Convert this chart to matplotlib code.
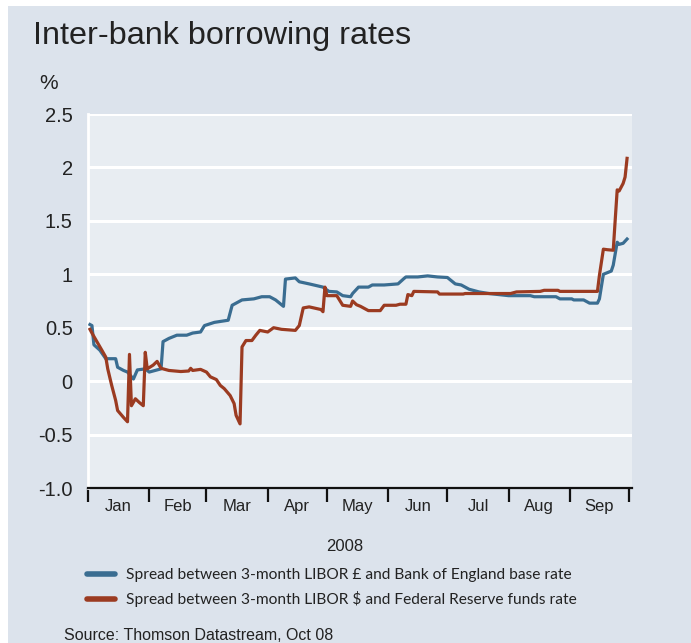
import matplotlib
matplotlib.use('Agg')
import matplotlib.pyplot as plt
from matplotlib.patches import Rectangle
import pandas as pd

# days since 1 Jan 2008 and spreads in percentage points
gbp_days = [1, 2, 3, 6, 9, 10, 14, 15, 18, 20, 23, 25, 29, 31, 34, 37, 38, 41, 45, 50,
            53, 57, 59, 64, 71, 73, 78, 84, 88, 92, 95, 99, 100, 105, 107, 112, 119, 122,
            126, 129, 133, 134, 137, 142, 144, 150, 157, 160, 161, 167, 172, 177, 182,
            186, 189, 193, 198, 203, 213, 224, 226, 237, 239, 245, 246, 251, 254, 258,
            259, 261, 265, 266, 268, 269, 271, 273]
gbp_spread = [0.53, 0.52, 0.34, 0.29, 0.21, 0.21, 0.21, 0.13, 0.10, 0.085, 0.02, 0.105,
              0.115, 0.085, 0.10, 0.115, 0.37, 0.40, 0.43, 0.43, 0.45, 0.46, 0.52, 0.55,
              0.57, 0.71, 0.76, 0.77, 0.79, 0.79, 0.76, 0.70, 0.955, 0.966, 0.93, 0.91,
              0.88, 0.84, 0.835, 0.80, 0.79, 0.82, 0.88, 0.88, 0.90, 0.90, 0.91, 0.96,
              0.975, 0.975, 0.985, 0.975, 0.97, 0.91, 0.90, 0.86, 0.835, 0.82, 0.80, 0.80,
              0.79, 0.79, 0.77, 0.77, 0.76, 0.76, 0.73, 0.73, 0.77, 1.0, 1.03, 1.085,
              1.30, 1.28, 1.29, 1.33]

usd_days = [1, 2, 7, 9, 10, 12, 14, 15, 18, 20, 21, 22, 24, 26, 28, 29, 30, 33, 35, 37,
            41, 47, 51, 52, 53, 57, 60, 62, 65, 67, 69, 72, 74, 75, 77, 78, 80, 83, 85,
            87, 91, 94, 98, 105, 107, 109, 112, 118, 119, 120, 121, 126, 129, 133, 134,
            136, 138, 142, 148, 150, 156, 158, 161, 162, 164, 165, 177, 178, 190, 191,
            214, 217, 229, 231, 238, 239, 258, 259, 261, 263, 266, 267, 268, 269, 271,
            272, 273]
usd_spread = [0.485, 0.45, 0.29, 0.225, 0.115, -0.04, -0.18, -0.275, -0.34, -0.38, 0.25,
              -0.23, -0.165, -0.20, -0.23, 0.27, 0.115, 0.15, 0.185, 0.12, 0.10, 0.09,
              0.095, 0.12, 0.10, 0.11, 0.085, 0.04, 0.015, -0.04, -0.07, -0.135, -0.21,
              -0.32, -0.40, 0.32, 0.38, 0.38, 0.43, 0.475, 0.46, 0.50, 0.485, 0.475, 0.52,
              0.685, 0.695, 0.67, 0.65, 0.88, 0.80, 0.80, 0.71, 0.70, 0.75, 0.715, 0.70,
              0.66, 0.66, 0.71, 0.71, 0.72, 0.72, 0.81, 0.80, 0.84, 0.835, 0.815, 0.815,
              0.82, 0.82, 0.835, 0.84, 0.85, 0.85, 0.84, 0.84, 0.99, 1.235, 1.23, 1.225,
              1.51, 1.79, 1.78, 1.85, 1.91, 2.085]

month_labels = ['Jan', 'Feb', 'Mar', 'Apr', 'May', 'Jun', 'Jul', 'Aug', 'Sep']
y_ticks = [2.5, 2, 1.5, 1, 0.5, 0, -0.5, -1.0]
y_labels = ['2.5', '2', '1.5', '1', '0.5', '0', '-0.5', '-1.0']

legend_labels = ['Spread between 3-month LIBOR £ and Bank of England base rate',
                 'Spread between 3-month LIBOR $ and Federal Reserve funds rate']

start = pd.Timestamp('2008-01-01')
gbp_dates = start + pd.to_timedelta(gbp_days, unit='D')
usd_dates = start + pd.to_timedelta(usd_days, unit='D')
month_starts = pd.date_range('2008-01-01', '2008-10-01', freq='MS')
month_mids = month_starts[:-1] + (month_starts[1:] - month_starts[:-1]) / 2

outer_bg = '#dce3ec'
plot_bg = '#e8edf2'
blue = '#3a6d91'
red = '#9b3b21'

W, H = 691, 643
fig = plt.figure(figsize=(W / 100, H / 100), dpi=100, facecolor='white')
fig.patches.append(Rectangle((8 / W, 0), 1, 1 - 6 / H, transform=fig.transFigure,
                             facecolor=outer_bg, edgecolor='none', zorder=-10))

ax = fig.add_axes([88 / W, (H - 488) / H, 544 / W, (488 - 114) / H])
ax.set_facecolor(plot_bg)

l1, = ax.plot(gbp_dates, gbp_spread, color=blue, lw=2.3, solid_joinstyle='round', zorder=3)
l2, = ax.plot(usd_dates, usd_spread, color=red, lw=2.3, solid_joinstyle='round', zorder=3)

ax.set_xlim(start, start + pd.Timedelta(days=275.5))
ax.set_ylim(-1.0, 2.5)

ax.set_yticks(y_ticks)
ax.set_yticklabels(y_labels, fontsize=14.5, family='Liberation Sans', color='#222222')
ax.tick_params(axis='y', length=0, pad=11)
ax.grid(axis='y', color='white', lw=2.2, zorder=1)
ax.set_axisbelow(True)

ax.set_xticks(month_starts)
ax.set_xticklabels([])
ax.set_xticks(month_mids, minor=True)
ax.set_xticklabels(month_labels, minor=True, fontsize=12, family='Liberation Sans',
                   color='#222222')
ax.tick_params(axis='x', which='major', direction='out', length=10, width=1.6, color='#111111')
ax.tick_params(axis='x', which='minor', length=0, pad=8)

for s in ['top', 'right']:
    ax.spines[s].set_visible(False)
ax.spines['left'].set_color('white')
ax.spines['left'].set_linewidth(2)
ax.spines['bottom'].set_color('#111111')
ax.spines['bottom'].set_linewidth(1.6)

fig.text(33 / W, 1 - 44 / H, 'Inter-bank borrowing rates', fontsize=23.3,
         family='Liberation Sans', color='#222222', va='baseline')
fig.text(49 / W, 1 - 89 / H, '%', fontsize=15, family='Liberation Sans',
         color='#222222', va='baseline', ha='center')
fig.text(345 / W, 1 - 551 / H, '2008', fontsize=12, family='Liberation Sans',
         color='#222222', va='baseline', ha='center')
fig.text(64 / W, 1 - 640 / H, 'Source: Thomson Datastream, Oct 08', fontsize=11.5,
         family='Liberation Sans', color='#222222', va='baseline')

leg = fig.legend([l1, l2], legend_labels, loc='upper left', bbox_to_anchor=(87 / W, 1 - 568 / H),
                 frameon=False, prop={'family': 'Lato', 'size': 11.2},
                 handlelength=1.8, handletextpad=0.7, labelspacing=0.6, borderpad=0,
                 borderaxespad=0)
for line in leg.get_lines():
    line.set_linewidth(4)
    line.set_solid_capstyle('round')
for t in leg.get_texts():
    t.set_color('#222222')

fig.savefig('out.png', dpi=100, facecolor=fig.get_facecolor())
